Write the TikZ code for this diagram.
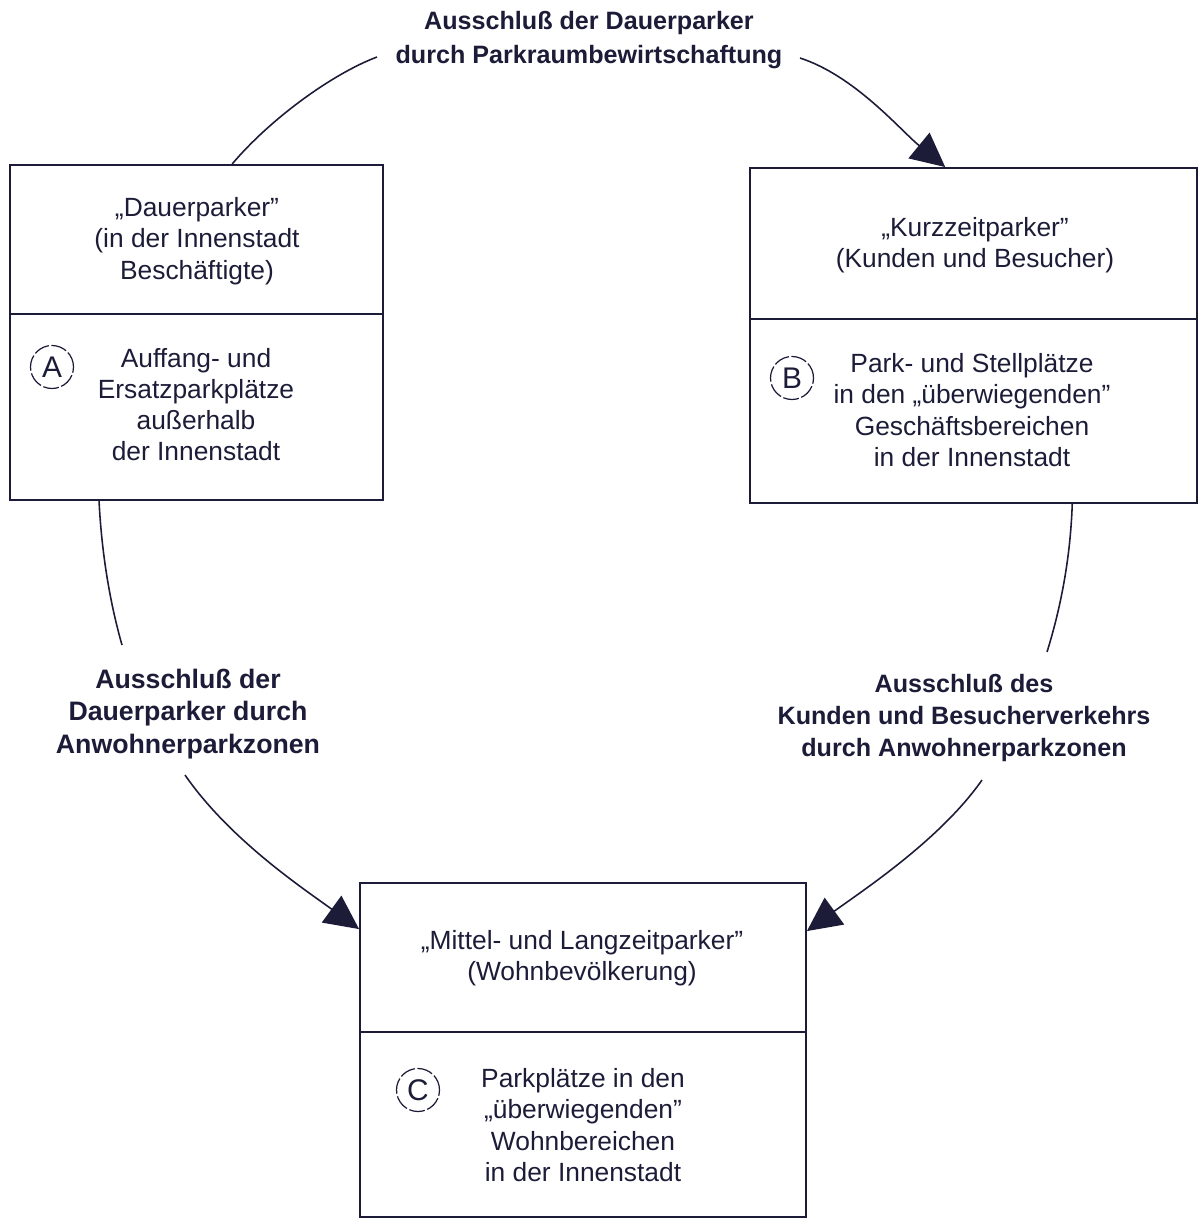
\documentclass[tikz,border=0pt]{standalone}
\usepackage{fontspec}
\setmainfont{Liberation Sans}
\usetikzlibrary{arrows.meta,calc}
\definecolor{ink}{RGB}{28,28,56}
\begin{document}
\begin{tikzpicture}[x=0.02cm,y=-0.02cm,
  box/.style={draw=ink,line width=1.1pt,inner sep=0pt},
  divider/.style={draw=ink,line width=1.1pt},
  txt/.style={text=ink,align=center,font=\fontsize{15}{17.8}\selectfont,inner sep=0pt},
  lbl/.style={text=ink,align=center,font=\bfseries\fontsize{15.2}{18.3}\selectfont,inner sep=0pt},
  letter/.style={circle,draw=ink,line width=0.7pt,dash pattern=on 9pt off 1.5pt,minimum size=0.86cm,inner sep=0pt,text=ink,font=\fontsize{17}{17}\selectfont},
  conn/.style={draw=ink,line width=0.9pt},
  tip/.style={-{Triangle[length=0.68cm,width=0.66cm]}}
]
\useasboundingbox (0,0) rectangle (1198,1219);

% boxes
\node[box,minimum width=7.46cm,minimum height=6.7cm] (A) at (196.5,332.5) {};
\node[box,minimum width=8.94cm,minimum height=6.7cm] (B) at (973.5,335.5) {};
\node[box,minimum width=8.92cm,minimum height=6.68cm] (C) at (583,1050) {};

\draw[divider] ($(A.north west)+(0,150)$) -- ($(A.north east)+(0,150)$);
\draw[divider] ($(B.north west)+(0,152)$) -- ($(B.north east)+(0,152)$);
\draw[divider] ($(C.north west)+(0,150)$) -- ($(C.north east)+(0,150)$);

% box texts
\node[txt] (A1) at (197,241) {„Dauerparker”\\(in der Innenstadt\\Beschäftigte)};
\node[txt] (A2) at (196,404.5) {Auffang- und\\Ersatzparkplätze\\außerhalb\\der Innenstadt};
\node[letter] (cA) at (52,367) {A};

\node[txt] (B1) at (975,245) {„Kurzzeitparker”\\(Kunden und Besucher)};
\node[txt] (B2) at (972,410) {Park- und Stellplätze\\in den „überwiegenden”\\Geschäftsbereichen\\in der Innenstadt};
\node[letter] (cB) at (792,378) {B};

\node[txt] (C1) at (582,958.5) {„Mittel- und Langzeitparker”\\(Wohnbevölkerung)};
\node[txt] (C2) at (583,1125) {Parkplätze in den\\„überwiegenden”\\Wohnbereichen\\in der Innenstadt};
\node[letter] (cC) at (418,1090) {C};

% connector labels
\node[lbl,font=\bfseries\fontsize{14.3}{19.8}\selectfont] (T) at (589,40) {Ausschluß der Dauerparker\\durch Parkraumbewirtschaftung};
\node[lbl] (L) at (188,714) {Ausschluß der\\Dauerparker durch\\Anwohnerparkzonen};
\node[lbl,font=\bfseries\fontsize{14.3}{18.1}\selectfont] (R) at (964,718) {Ausschluß des\\Kunden und Besucherverkehrs\\durch Anwohnerparkzonen};

% connectors
\draw[conn] ($(A.north west)!0.595!(A.north east)$) .. controls +(38,-45) and +(-45,17) .. ($(T.center)+(-212,17)$);
\draw[conn,tip] ($(T.center)+(211,18)$) .. controls +(55,18) and +(-45,-37) .. ($(B.north west)!0.437!(B.north east)$);

\draw[conn] ($(A.south west)!0.24!(A.south east)$) .. controls +(3,60) and +(-10,-35) .. ($(L.center)+(-66,-69)$);
\draw[conn,tip] ($(L.center)+(-3,61)$) .. controls +(45,65) and +(-55,-40) .. ($(C.north west)+(0,47)$);

\draw[conn] ($(B.south west)!0.72!(B.south east)$) .. controls +(-2,57) and +(13,-42) .. ($(R.center)+(83,-66)$);
\draw[conn,tip] ($(R.center)+(18,62)$) .. controls +(-42,60) and +(55,-40) .. ($(C.north east)+(0,49)$);
\end{tikzpicture}
\end{document}
